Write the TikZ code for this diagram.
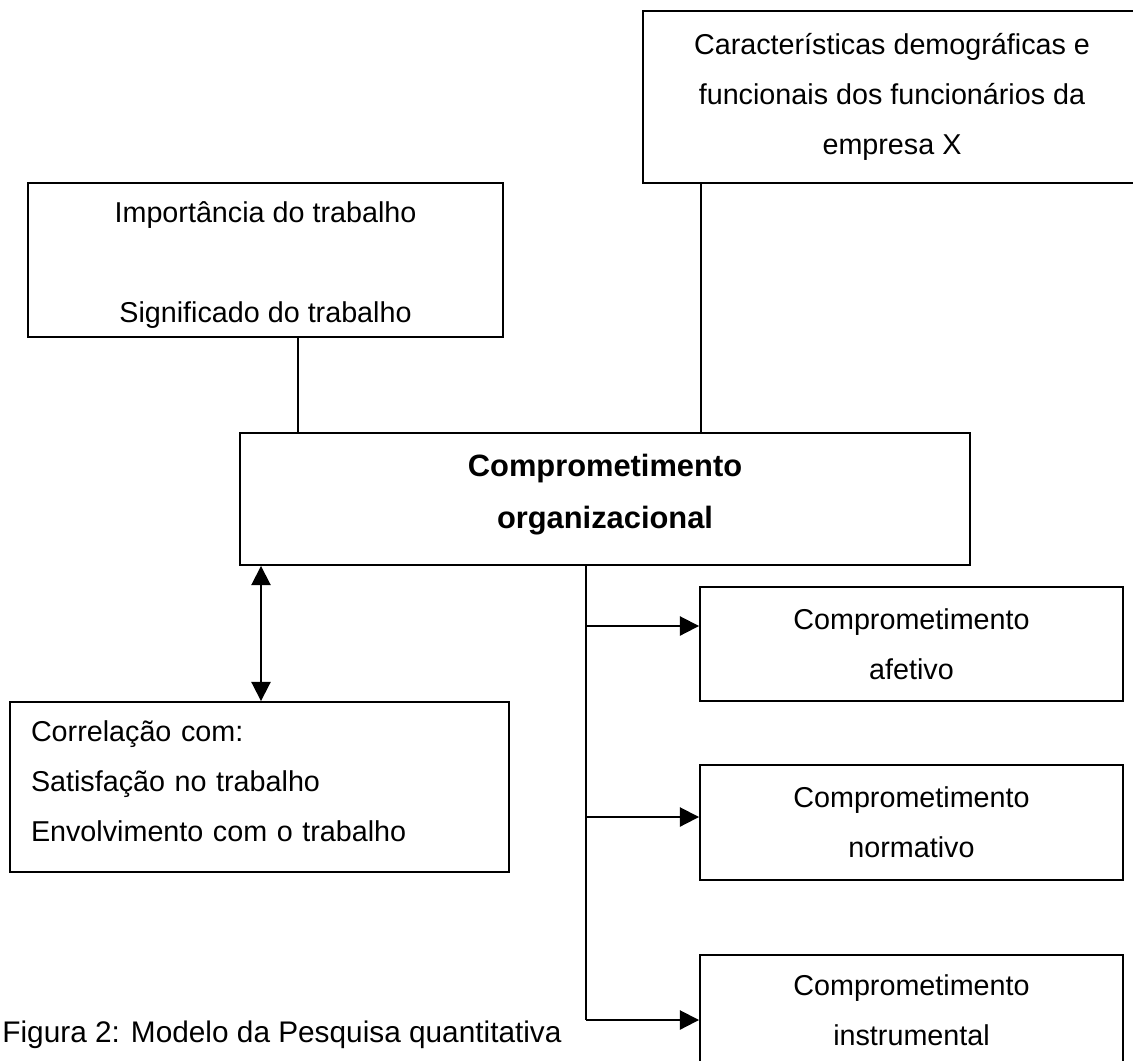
\documentclass[tikz,border=0pt]{standalone}
\usepackage{fontspec}
\setmainfont{Liberation Sans}
\usetikzlibrary{arrows.meta}
\newdimen\px \px=0.47pt
\tikzstyle{box}=[rectangle,draw,line width=0.9pt,inner sep=0pt,align=center,font=\fontsize{13.5}{23.5}\selectfont]
\tikzstyle{edge}=[draw,line width=0.9pt]
\tikzstyle{arrow}=[edge,-{Triangle[length=9pt,width=9pt]}]
\tikzstyle{both}=[edge,{Triangle[length=9pt,width=9pt]}-{Triangle[length=9pt,width=9pt]}]

\begin{document}
\begin{tikzpicture}[x=1\px,y=-1\px]
        \useasboundingbox (0,0) rectangle (1133,1060);
        \node[box,minimum width=498\px,minimum height=172\px] (carac) at (892,97)
            {Características demográficas e\\funcionais dos funcionários da\\empresa X};
        \node[box,minimum width=475\px,minimum height=154\px] (trab) at (265.5,260)
            {\rule{0pt}{15pt}Importância do trabalho\\[23.5pt]Significado do trabalho};
        \node[box,minimum width=730\px,minimum height=132\px,font=\fontsize{14.5}{24.5}\selectfont\bfseries] (comp) at (605,499)
            {Comprometimento\\organizacional\rule[-7.5pt]{0pt}{7.5pt}};
        \node[box,minimum width=499\px,minimum height=170\px,align=left,text width=457\px] (corr) at (259.5,787)
            {Correlação com:\\Satisfação no trabalho\\Envolvimento com o trabalho\rule[-6pt]{0pt}{6pt}};
        \node[box,minimum width=423\px,minimum height=114\px] (afet) at (911.5,644) {Comprometimento\\afetivo};
        \node[box,minimum width=423\px,minimum height=115\px] (norm) at (911.5,822.5) {Comprometimento\\normativo};
        \node[box,minimum width=423\px,minimum height=120\px] (instr) at (911.5,1015)
            {Comprometimento\\instrumental\rule[-5pt]{0pt}{5pt}};
        \node[anchor=base west,inner sep=0pt,font=\fontsize{14}{16}\selectfont] (caption) at (2,1042)
            {Figura 2: Modelo da Pesquisa quantitativa};
        % ligacoes
        \coordinate (t) at (298,0);
        \coordinate (c) at (701,0);
        \coordinate (d) at (261,0);
        \coordinate (f) at (586,0);
        \coordinate (b1) at (586,626);
        \coordinate (b2) at (586,817);
        \coordinate (b3) at (586,1020);
        \path[edge] (trab.south -| t) -- (comp.north -| t);
        \path[edge] (carac.south -| c) -- (comp.north -| c);
        \path[both] (comp.south -| d) -- (corr.north -| d);
        \path[edge] (comp.south -| f) -- (b3);
        \path[arrow] (b1) -- (afet.west |- b1);
        \path[arrow] (b2) -- (norm.west |- b2);
        \path[arrow] (b3) -- (instr.west |- b3);
    \end{tikzpicture}
\end{document}
